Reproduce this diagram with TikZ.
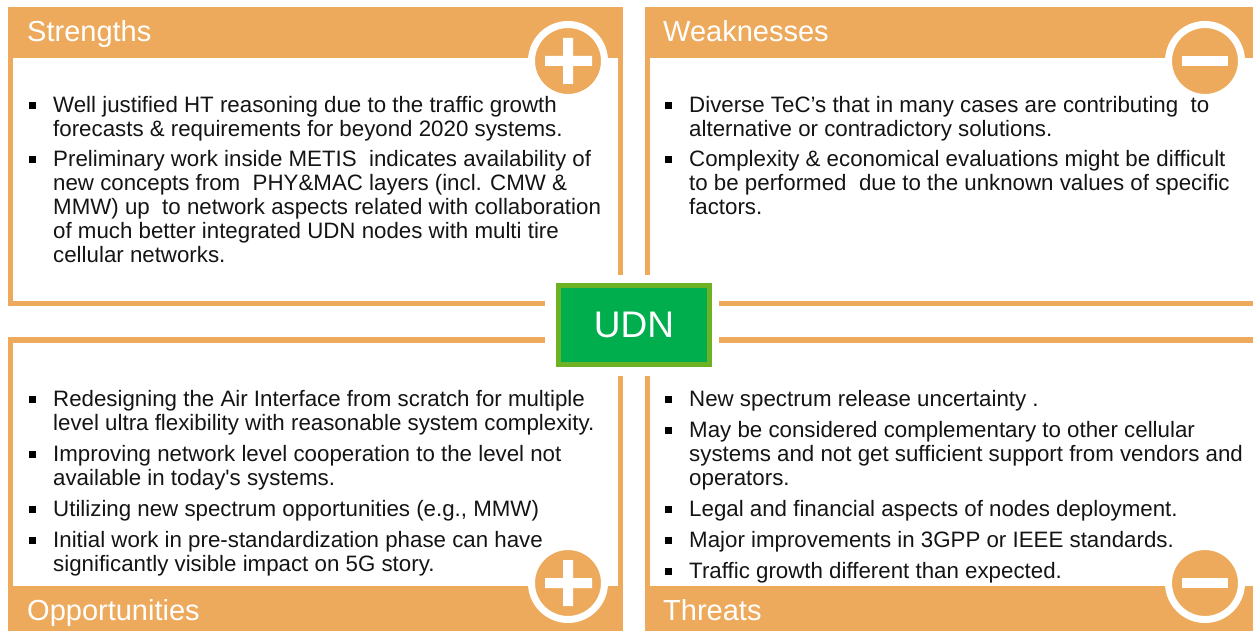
\documentclass[tikz,border=0pt]{standalone}
\usepackage{fontspec}
\setmainfont{Liberation Sans}
\newfontfamily\itemfont{Liberation Sans}
\definecolor{swotorange}{RGB}{237,170,92}
\definecolor{udnfill}{RGB}{0,174,78}
\definecolor{udnedge}{RGB}{109,178,35}
\definecolor{itemink}{RGB}{20,20,20}
\tikzset{
  panelbar/.style={fill=swotorange,draw=none},
  heading/.style={anchor=base west,inner sep=0pt,text=white,font=\fontsize{29}{32}\selectfont},
  itemtext/.style={anchor=north west,inner sep=0pt,align=left,text=itemink,font=\itemfont\fontsize{22.3}{24}\selectfont},
  itemmark/.style={fill=black,minimum size=7pt,inner sep=0pt,anchor=center},
  signdisc/.style={circle,fill=swotorange,draw=white,line width=7pt,minimum size=73pt,inner sep=0pt}
}
\newcommand{\swotitem}[4]{
  \node[itemtext] (#1) at (#2,#3) {#4};
  \node[itemmark] (#1mark) at (#2-21,#3+9.5) {};
}
\begin{document}
\begin{tikzpicture}[x=1pt,y=-1pt]
  \useasboundingbox (0,0) rectangle (1253,631);
  \newcommand{\topbar}{58}
  \newcommand{\lowbar}{586}
  % frames of the four panels
  \fill[panelbar] (8,7) rectangle (623,\topbar);
  \fill[panelbar] (645,7) rectangle (1253,\topbar);
  \fill[panelbar] (8,\lowbar) rectangle (623,631);
  \fill[panelbar] (645,\lowbar) rectangle (1253,631);
  \fill[panelbar] (8,7) rectangle (13,306);
  \fill[panelbar] (8,301) rectangle (545,306);
  \fill[panelbar] (618,7) rectangle (623,275);
  \fill[panelbar] (645,7) rectangle (650,275);
  \fill[panelbar] (719,301) rectangle (1253,306);
  \fill[panelbar] (8,337) rectangle (13,631);
  \fill[panelbar] (8,337) rectangle (545,343);
  \fill[panelbar] (618,376) rectangle (623,631);
  \fill[panelbar] (645,376) rectangle (650,631);
  \fill[panelbar] (719,337) rectangle (1253,343);
  % headings
  \node[heading] (strengths) at (27,42) {Strengths};
  \node[heading] (weaknesses) at (663,42) {Weaknesses};
  \node[heading] (opportunities) at (27,620) {Opportunities};
  \node[heading] (threats) at (663,620) {Threats};
  % plus and minus signs
  \node[signdisc] (plustop) at (568,61) {};
  \fill[white] (545,56) rectangle (592,66) (563,38) rectangle (573,84);
  \node[signdisc] (minustop) at (1205,61) {};
  \fill[white] (1182,56) rectangle (1228,66);
  \node[signdisc] (pluslow) at (568,583) {};
  \fill[white] (545,578) rectangle (592,588) (563,560) rectangle (573,606);
  \node[signdisc] (minuslow) at (1205,583) {};
  \fill[white] (1182,578) rectangle (1228,588);
  % centre box
  \node[fill=udnfill,draw=udnedge,line width=5pt,minimum width=151pt,minimum height=79pt,inner sep=0pt,
    text=white,font=\fontsize{37}{40}\selectfont] (udn) at (634,325) {UDN};
  % strengths
  \swotitem{sa}{53}{96}{Well justified HT reasoning due to the traffic growth\\forecasts \& requirements for beyond 2020 systems.}
  \swotitem{sb}{53}{150}{Preliminary work inside METIS \ indicates availability of\\new concepts from \ PHY\&MAC layers (incl. CMW \&\\MMW) up \ to network aspects related with collaboration\\of much better integrated UDN nodes with multi tire\\cellular networks.}
  % weaknesses
  \swotitem{wa}{689}{96}{Diverse TeC’s that in many cases are contributing \ to\\alternative or contradictory solutions.}
  \swotitem{wb}{689}{150}{Complexity \& economical evaluations might be difficult\\to be performed \ due to the unknown values of specific\\factors.}
  % opportunities
  \swotitem{oa}{53}{390}{Redesigning the Air Interface from scratch for multiple\\level ultra flexibility with reasonable system complexity.}
  \swotitem{ob}{53}{445}{Improving network level cooperation to the level not\\available in today's systems.}
  \swotitem{oc}{53}{500}{Utilizing new spectrum opportunities (e.g., MMW)}
  \swotitem{od}{53}{531}{Initial work in pre-standardization phase can have\\significantly visible impact on 5G story.}
  % threats
  \swotitem{ta}{689}{390}{New spectrum release uncertainty .}
  \swotitem{tb}{689}{421}{May be considered complementary to other cellular\\systems and not get sufficient support from vendors and\\operators.}
  \swotitem{tc}{689}{500}{Legal and financial aspects of nodes deployment.}
  \swotitem{td}{689}{531}{Major improvements in 3GPP or IEEE standards.}
  \swotitem{te}{689}{562}{Traffic growth different than expected.}
\end{tikzpicture}
\end{document}
